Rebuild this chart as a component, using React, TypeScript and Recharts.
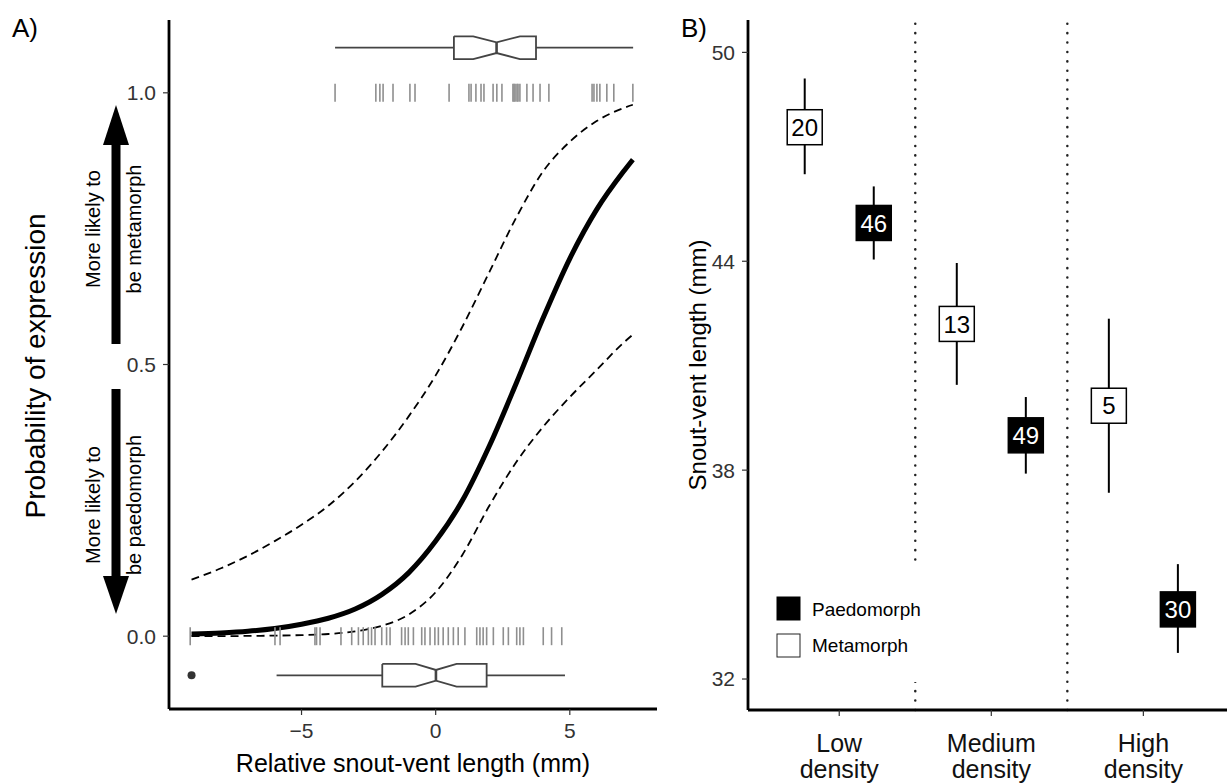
import React from 'react'
import { ComposedChart, Line, Scatter, XAxis, YAxis, ReferenceLine, ErrorBar } from 'recharts'

const FONT = '"Liberation Sans", Arial, Helvetica, sans-serif'
const W = 1227
const H = 784

// ---- Panel A: probability of metamorphosis vs relative SVL ----
const curveX = [-9.1, -8, -7, -6, -5, -4, -3, -2, -1, 0, 1, 2, 3, 4, 5, 6, 7, 7.35]
const fitP = [0.004, 0.006, 0.009, 0.014, 0.022, 0.033, 0.05, 0.077, 0.117, 0.175, 0.25, 0.35, 0.465, 0.585, 0.695, 0.785, 0.855, 0.877]
const upperP = [0.104, 0.125, 0.148, 0.175, 0.205, 0.24, 0.285, 0.34, 0.405, 0.48, 0.57, 0.67, 0.77, 0.855, 0.91, 0.948, 0.972, 0.978]
const lowerP = [0, 0, 0.0005, 0.001, 0.002, 0.004, 0.009, 0.019, 0.04, 0.081, 0.15, 0.24, 0.32, 0.385, 0.44, 0.49, 0.54, 0.555]

// rug positions (relative SVL) of metamorphs (y = 1) and paedomorphs (y = 0)
const metaRugX = [-3.75, -2.23, -2.08, -1.96, -1.59, -0.96, -0.77, 0.5, 1.24, 1.32, 1.5, 1.69, 1.8, 2.14, 2.28, 2.47, 2.88, 2.92, 2.96, 3.03, 3.07, 3.14, 3.4, 3.63, 3.89, 4.22, 5.83, 5.9, 6.01, 6.12, 6.38, 6.64, 7.35]
const paedoRugX = [-9.15, -5.99, -5.8, -4.5, -4.44, -4.31, -3.53, -3.13, -2.88, -2.7, -2.51, -2.39, -2.26, -2.01, -1.83, -1.7, -1.27, -1.14, -1.02, -0.83, -0.52, -0.4, -0.21, -0.03, 0.1, 0.28, 0.47, 0.66, 0.84, 1.09, 1.53, 1.65, 1.77, 1.9, 2.15, 2.52, 2.71, 3.02, 3.14, 3.27, 4.01, 4.32, 4.7]

// notched boxplots: [whiskerLo, q1, notchLo, median, notchHi, q3, whiskerHi]
const metaBox = [-3.75, 0.68, 1.4, 2.27, 3.14, 3.74, 7.36]
const paedoBox = [-5.93, -1.99, -0.75, 0.01, 0.78, 1.9, 4.82]
const paedoOutliers = [-9.1]

// ---- Panel B: snout-vent length by density ----
const densities = ['Low density', 'Medium density', 'High density']
const metaMean = [47.85, 42.2, 39.85]
const metaLo = [46.5, 40.45, 37.35]
const metaHi = [49.25, 43.95, 42.35]
const metaN = [20, 13, 5]
const paedoMean = [45.1, 39.0, 34.0]
const paedoLo = [44.05, 37.9, 32.75]
const paedoHi = [46.15, 40.1, 35.3]
const paedoN = [46, 49, 30]

const META_BOX_Y = 1.083
const PAEDO_BOX_Y = -0.072
const BOX_HALF = 0.021
const NOTCH_HALF = 0.0098
const DODGE = 0.227

const toXY = (xs: number[], ys: number[]) => xs.map((x, i) => ({ x, y: ys[i] }))

function boxParts(b: number[], yc: number) {
  const [lo, q1, nl, med, nh, q3, hi] = b
  const t = yc + BOX_HALF
  const bt = yc - BOX_HALF
  return {
    left: [{ x: lo, y: yc }, { x: q1, y: yc }],
    right: [{ x: q3, y: yc }, { x: hi, y: yc }],
    outline: [
      { x: q1, y: t }, { x: nl, y: t }, { x: med, y: yc + NOTCH_HALF }, { x: nh, y: t }, { x: q3, y: t },
      { x: q3, y: bt }, { x: nh, y: bt }, { x: med, y: yc - NOTCH_HALF }, { x: nl, y: bt }, { x: q1, y: bt }, { x: q1, y: t },
    ],
    median: [{ x: med, y: yc + NOTCH_HALF }, { x: med, y: yc - NOTCH_HALF }],
  }
}

const metaParts = boxParts(metaBox, META_BOX_Y)
const paedoParts = boxParts(paedoBox, PAEDO_BOX_Y)

const fmtMinus = (v: number) => (v < 0 ? '\u2212' + Math.abs(v) : String(v))

function RugTick(props: any) {
  const { cx, cy } = props
  return <line x1={cx} x2={cx} y1={cy - 9} y2={cy + 9} stroke="#8f8f8f" strokeWidth={1.6} />
}

function OutlierDot(props: any) {
  return <circle cx={props.cx} cy={props.cy} r={4} fill="#333" />
}

function boxLines(parts: ReturnType<typeof boxParts>, key: string) {
  const common = { dataKey: 'y', dot: false, activeDot: false, isAnimationActive: false, type: 'linear' as const, stroke: '#444' }
  return [
    <Line key={key + 'l'} data={parts.left} strokeWidth={1.8} {...common} />,
    <Line key={key + 'r'} data={parts.right} strokeWidth={1.8} {...common} />,
    <Line key={key + 'o'} data={parts.outline} strokeWidth={1.8} {...common} />,
    <Line key={key + 'm'} data={parts.median} strokeWidth={2.6} {...common} />,
  ]
}

function PanelA() {
  const tickStyle = { fontSize: 21, fill: '#333', fontFamily: FONT }
  return (
    <ComposedChart width={700} height={784} margin={{ top: 20, right: 43, bottom: 35, left: 109 }}>
      <XAxis
        type="number"
        dataKey="x"
        domain={[-9.94, 8.25]}
        ticks={[-5, 0, 5]}
        allowDataOverflow
        height={40}
        tickFormatter={fmtMinus}
        tick={tickStyle}
        tickSize={6}
        tickMargin={8}
        axisLine={{ stroke: '#000', strokeWidth: 2.8 }}
        tickLine={{ stroke: '#333', strokeWidth: 1.2 }}
      />
      <YAxis
        type="number"
        dataKey="y"
        domain={[-0.134, 1.134]}
        ticks={[0, 0.5, 1]}
        allowDataOverflow
        width={60}
        tickFormatter={(v: number) => v.toFixed(1)}
        tick={tickStyle}
        tickSize={6}
        tickMargin={7}
        axisLine={{ stroke: '#000', strokeWidth: 2.8 }}
        tickLine={{ stroke: '#333', strokeWidth: 1.2 }}
      />
      <Scatter data={metaRugX.map((x) => ({ x, y: 1 }))} shape={RugTick} isAnimationActive={false} />
      <Scatter data={paedoRugX.map((x) => ({ x, y: 0 }))} shape={RugTick} isAnimationActive={false} />
      <Line data={toXY(curveX, upperP)} dataKey="y" type="monotone" stroke="#000" strokeWidth={1.8} strokeDasharray="8 5" dot={false} activeDot={false} isAnimationActive={false} />
      <Line data={toXY(curveX, lowerP)} dataKey="y" type="monotone" stroke="#000" strokeWidth={1.8} strokeDasharray="8 5" dot={false} activeDot={false} isAnimationActive={false} />
      <Line data={toXY(curveX, fitP)} dataKey="y" type="monotone" stroke="#000" strokeWidth={5} dot={false} activeDot={false} isAnimationActive={false} />
      {boxLines(metaParts, 'meta')}
      {boxLines(paedoParts, 'paedo')}
      <Scatter data={paedoOutliers.map((x) => ({ x, y: PAEDO_BOX_Y }))} shape={OutlierDot} isAnimationActive={false} />
    </ComposedChart>
  )
}

function DensityTick(props: any) {
  const { x, y, payload } = props
  const words = String(densities[Math.round(payload.value) - 1] ?? '').split(' ')
  return (
    <text x={x} y={y} textAnchor="middle" fontSize={25} fill="#111" fontFamily={FONT}>
      <tspan x={x} dy={34}>{words[0]}</tspan>
      <tspan x={x} dy={26}>{words[1]}</tspan>
    </text>
  )
}

function CountBox(props: any) {
  const { cx, cy, payload } = props
  const dark = payload.morph === 'paedo'
  return (
    <g>
      <rect x={cx - 17.5} y={cy - 17.5} width={35} height={35} fill={dark ? '#000' : '#fff'} stroke="#000" strokeWidth={1.5} />
      <text x={cx} y={cy} dy="0.36em" textAnchor="middle" fontSize={24} fontFamily={FONT} fill={dark ? '#fff' : '#000'}>
        {payload.n}
      </text>
    </g>
  )
}

function PanelB() {
  const metaData = densities.map((d, i) => ({
    x: i + 1 - DODGE, y: metaMean[i], err: [metaMean[i] - metaLo[i], metaHi[i] - metaMean[i]], n: metaN[i], morph: 'meta',
  }))
  const paedoData = densities.map((d, i) => ({
    x: i + 1 + DODGE, y: paedoMean[i], err: [paedoMean[i] - paedoLo[i], paedoHi[i] - paedoMean[i]], n: paedoN[i], morph: 'paedo',
  }))
  return (
    <ComposedChart width={577} height={784} margin={{ top: 20, right: 0, bottom: 4, left: 38 }}>
      <XAxis
        type="number"
        dataKey="x"
        domain={[0.4, 3.55]}
        ticks={[1, 2, 3]}
        allowDataOverflow
        height={70}
        tick={<DensityTick />}
        tickSize={6}
        tickMargin={2}
        axisLine={{ stroke: '#000', strokeWidth: 2.8 }}
        tickLine={{ stroke: '#333', strokeWidth: 1.2 }}
      />
      <YAxis
        type="number"
        dataKey="y"
        domain={[31.11, 50.93]}
        ticks={[32, 38, 44, 50]}
        allowDataOverflow
        width={60}
        tick={{ fontSize: 21, fill: '#333', fontFamily: FONT }}
        tickSize={6}
        tickMargin={7}
        axisLine={{ stroke: '#000', strokeWidth: 2.8 }}
        tickLine={{ stroke: '#333', strokeWidth: 1.2 }}
      />
      <ReferenceLine x={1.5} stroke="#222" strokeWidth={2.5} strokeDasharray="0.1 9.3" strokeLinecap="round" />
      <ReferenceLine x={2.5} stroke="#222" strokeWidth={2.5} strokeDasharray="0.1 9.3" strokeLinecap="round" />
      <Scatter data={metaData} shape={CountBox} isAnimationActive={false}>
        <ErrorBar dataKey="err" direction="y" width={0} stroke="#000" strokeWidth={2} />
      </Scatter>
      <Scatter data={paedoData} shape={CountBox} isAnimationActive={false}>
        <ErrorBar dataKey="err" direction="y" width={0} stroke="#000" strokeWidth={2} />
      </Scatter>
    </ComposedChart>
  )
}

function Arrow({ x, tip, base, end }: { x: number; tip: number; base: number; end: number }) {
  const shaftTop = Math.min(base, end)
  const shaftH = Math.abs(end - base)
  return (
    <g>
      <rect x={x - 4.5} y={shaftTop} width={9} height={shaftH} fill="#000" />
      <polygon points={`${x},${tip} ${x - 13},${base} ${x + 13},${base}`} fill="#000" />
    </g>
  )
}

export default function App() {
  return (
    <div style={{ position: 'absolute', left: 0, top: 0, width: W, height: H, background: '#fff', fontFamily: FONT }}>
      <div style={{ position: 'absolute', left: 0, top: 0 }}>
        <PanelA />
      </div>
      <div style={{ position: 'absolute', left: 650, top: 0 }}>
        <PanelB />
      </div>
      <svg width={W} height={H} style={{ position: 'absolute', left: 0, top: 0, pointerEvents: 'none' }} fontFamily={FONT}>
        <text x={12} y={37} fontSize={26} fill="#000">A)</text>
        <text x={681} y={37} fontSize={26} fill="#000">B)</text>
        <text transform="translate(45, 366) rotate(-90)" textAnchor="middle" fontSize={28} fill="#000">Probability of expression</text>
        <text x={413} y={772} textAnchor="middle" fontSize={25} fill="#000">Relative snout-vent length (mm)</text>
        <text transform="translate(706, 365) rotate(-90)" textAnchor="middle" fontSize={24} fill="#000">Snout-vent length (mm)</text>

        <Arrow x={116} tip={105} base={145} end={344} />
        <Arrow x={116} tip={614} base={576} end={389} />
        <text transform="translate(100, 229) rotate(-90)" textAnchor="middle" fontSize={20} fill="#000">More likely to</text>
        <text transform="translate(141, 229) rotate(-90)" textAnchor="middle" fontSize={20} fill="#000">be metamorph</text>
        <text transform="translate(100, 505) rotate(-90)" textAnchor="middle" fontSize={20} fill="#000">More likely to</text>
        <text transform="translate(141, 505) rotate(-90)" textAnchor="middle" fontSize={20} fill="#000">be paedomorph</text>

        <rect x={762} y={562} width={165} height={120} fill="#fff" />
        <rect x={777} y={597} width={23} height={23} fill="#000" stroke="#000" strokeWidth={1} />
        <rect x={777} y={634} width={23} height={23} fill="#fff" stroke="#222" strokeWidth={1} />
        <text x={812} y={616} fontSize={19} fill="#000">Paedomorph</text>
        <text x={812} y={652} fontSize={19} fill="#000">Metamorph</text>
      </svg>
    </div>
  )
}
